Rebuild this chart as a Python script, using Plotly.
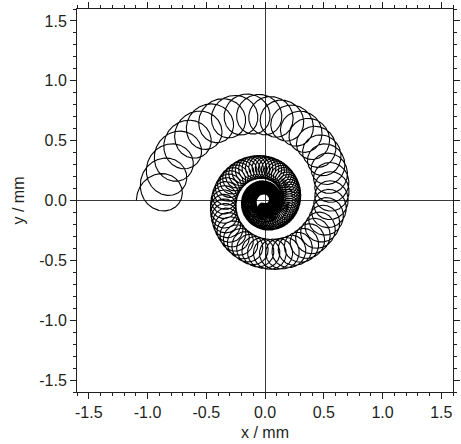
import numpy as np
import plotly.graph_objects as go

# Drift (guiding-centre) radius and gyration radius in mm, sampled every
# quarter turn of the slow clockwise drift, starting on the -x side.
quarter_turn = [0, 1, 2, 3, 4, 5]
guide_radius_mm = [0.905, 0.717, 0.57, 0.435, 0.35, 0.28]
loop_radius_mm = [0.19, 0.153, 0.15, 0.138, 0.108, 0.09]

# Number of gyration loops per drift turn, counted on the first and second turns
loop_count_at_turn = [0.25, 1.25]
loops_per_turn = [45, 66]
total_turns = 2.8

# Axis ticks
axis_range = [-1.6, 1.6]
tick_values = [-1.5, -1.0, -0.5, 0.0, 0.5, 1.0, 1.5]
tick_labels = ["-1.5", "-1.0", "-0.5", "0.0", "0.5", "1.0", "1.5"]

# Exponential damping of both motions, fitted per quarter turn
g_slope, g_icpt = np.polyfit(quarter_turn, np.log(guide_radius_mm), 1)
l_slope, l_icpt = np.polyfit(quarter_turn, np.log(loop_radius_mm), 1)
# Loops-per-turn growth (exponential in drift angle)
n_slope, n_icpt = np.polyfit(np.array(loop_count_at_turn) * 2 * np.pi, np.log(loops_per_turn), 1)

n_pts = 60000
phi = np.linspace(0.0, 2 * np.pi * total_turns, n_pts)   # drift phase
q = phi / (np.pi / 2)                                      # in quarter turns
r_g = np.exp(g_icpt + g_slope * q)
r_l = np.exp(l_icpt + l_slope * q)
psi = np.exp(n_icpt) * (np.exp(n_slope * phi) - 1.0) / n_slope   # gyration phase
z = r_g * np.exp(1j * (np.pi - phi)) + r_l * np.exp(1j * (np.pi - psi))

font = dict(family="Arial, Liberation Sans, sans-serif", size=16, color="#231f20")

fig = go.Figure(
    go.Scatter(
        x=z.real, y=z.imag, mode="lines",
        line=dict(color="#000000", width=1.1),
        hoverinfo="skip", showlegend=False,
    )
)

axis_common = dict(
    range=axis_range,
    tickmode="array", tickvals=tick_values, ticktext=tick_labels,
    ticks="outside", ticklen=6, tickwidth=1, tickcolor="#231f20",
    minor=dict(dtick=0.1, ticks="outside", ticklen=3, tickwidth=1, tickcolor="#231f20", showgrid=False),
    showline=True, linecolor="#231f20", linewidth=1, mirror="ticks",
    showgrid=False,
    zeroline=True, zerolinecolor="#3a3a3a", zerolinewidth=1,
    tickfont=font,
)

fig.update_xaxes(title=dict(text="x / mm", font=font, standoff=6), **axis_common)
fig.update_yaxes(title=dict(text="y / mm", font=font, standoff=10), **axis_common)

fig.update_layout(
    width=461, height=444,
    margin=dict(l=77, r=1, t=9, b=52),
    paper_bgcolor="white", plot_bgcolor="white",
    font=font,
)

fig.write_html("out.html")
